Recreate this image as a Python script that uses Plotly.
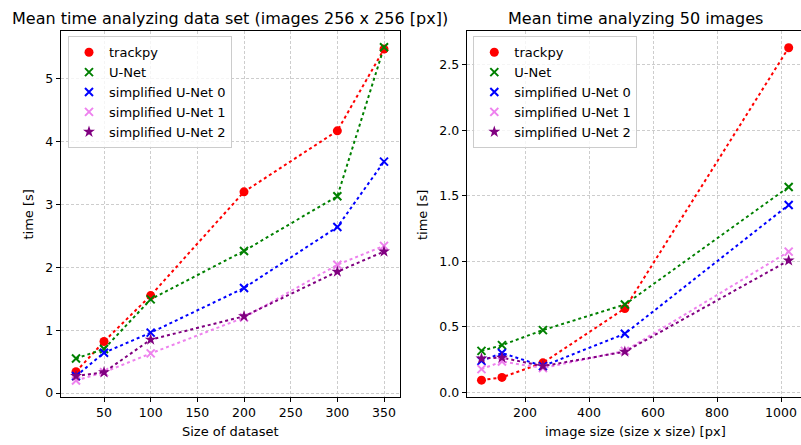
import plotly.graph_objects as go

W, H = 801, 445

# ---- data: left panel (dataset size) ----
dataset_sizes = [20, 50, 100, 200, 300, 350]
left_trackpy = [0.34, 0.82, 1.55, 3.20, 4.17, 5.47]
left_unet = [0.55, 0.70, 1.49, 2.26, 3.13, 5.50]
left_sunet0 = [0.27, 0.64, 0.96, 1.67, 2.64, 3.68]
left_sunet1 = [0.20, 0.33, 0.63, 1.20, 2.04, 2.34]
left_sunet2 = [0.27, 0.33, 0.85, 1.22, 1.93, 2.25]

# ---- data: right panel (image size) ----
image_sizes = [64, 128, 256, 512, 1024]
right_trackpy = [0.093, 0.114, 0.225, 0.64, 2.63]
right_unet = [0.316, 0.36, 0.475, 0.67, 1.567]
right_sunet0 = [0.24, 0.30, 0.20, 0.447, 1.43]
right_sunet1 = [0.177, 0.235, 0.185, 0.316, 1.074]
right_sunet2 = [0.258, 0.265, 0.20, 0.31, 1.006]

series_names = ["trackpy", "U-Net", "simplified U-Net 0", "simplified U-Net 1", "simplified U-Net 2"]
colors = ["red", "green", "blue", "violet", "purple"]
symbols = ["circle", "x-thin", "x-thin", "x-thin", "star"]

left_tick_x = [50, 100, 150, 200, 250, 300, 350]
left_tick_y = [0, 1, 2, 3, 4, 5]
right_tick_x = [200, 400, 600, 800, 1000]
right_tick_y = [0.0, 0.5, 1.0, 1.5, 2.0, 2.5]

FONT = "DejaVu Sans"
fig = go.Figure()

def add_panel(xs, ys_list, xa, ya, legend):
    for name, ys, c, s in zip(series_names, ys_list, colors, symbols):
        fig.add_trace(go.Scatter(x=xs, y=ys, mode="lines", xaxis=xa, yaxis=ya,
                                 line=dict(color=c, width=2, dash="dot"),
                                 showlegend=False, hoverinfo="skip"))
    for name, ys, c, s in zip(series_names, ys_list, colors, symbols):
        if s == "x-thin":
            mk = dict(symbol=s, size=8, color=c, line=dict(color=c, width=2))
        elif s == "star":
            mk = dict(symbol=s, size=9, color=c, line=dict(width=0))
        else:
            mk = dict(symbol=s, size=9, color=c, line=dict(width=0))
        fig.add_trace(go.Scatter(x=xs, y=ys, mode="markers", name=name, xaxis=xa, yaxis=ya,
                                 marker=mk, legend=legend))

add_panel(dataset_sizes, [left_trackpy, left_unet, left_sunet0, left_sunet1, left_sunet2], "x", "y", "legend")
add_panel(image_sizes, [right_trackpy, right_unet, right_sunet0, right_sunet1, right_sunet2], "x2", "y2", "legend2")

ydom = [1 - 400 / H, 1 - 31.7 / H]
axis_common = dict(showgrid=True, gridcolor="#cdcdcd", gridwidth=0.7, griddash="3px,2px",
                   zeroline=False, showline=True, linecolor="black", linewidth=1,
                   ticks="outside", ticklen=4, tickwidth=1, tickcolor="black",
                   tickfont=dict(family=FONT, size=12.5, color="black"))

legend_common = dict(bgcolor="rgba(255,255,255,0.8)", bordercolor="#cccccc", borderwidth=1,
                     font=dict(family=FONT, size=13, color="black"),
                     xanchor="left", yanchor="top", tracegroupgap=0)

fig.update_layout(
    width=W, height=H, margin=dict(l=0, r=0, t=0, b=0),
    paper_bgcolor="white", plot_bgcolor="white",
    font=dict(family=FONT, size=13, color="black"),
    xaxis=dict(domain=[60.7 / W, 399.6 / W], range=[3.6, 366.7], tickvals=left_tick_x,
               mirror=True, anchor="y", **axis_common),
    yaxis=dict(domain=ydom, range=[-0.068, 5.75], tickvals=left_tick_y,
               mirror=True, anchor="x", **axis_common),
    xaxis2=dict(domain=[466.7 / W, 1.0], range=[17.8, 1062.5], tickvals=right_tick_x,
                mirror=True, anchor="y2", **axis_common),
    yaxis2=dict(domain=ydom, range=[-0.038, 2.754], tickvals=right_tick_y, tickformat=".1f",
                mirror=False, anchor="x2", **axis_common),
    legend=dict(x=68 / W, y=1 - 36.5 / H, **legend_common),
    legend2=dict(x=473.3 / W, y=1 - 36.5 / H, **legend_common),
    annotations=[
        dict(text="Mean time analyzing data set (images 256 x 256 [px])", x=230.2 / W, y=1 - 18.5 / H,
             xref="paper", yref="paper", showarrow=False, xanchor="center", yanchor="middle",
             font=dict(family=FONT, size=16, color="black")),
        dict(text="Mean time analyzing 50 images", x=635 / W, y=1 - 18.5 / H,
             xref="paper", yref="paper", showarrow=False, xanchor="center", yanchor="middle",
             font=dict(family=FONT, size=16, color="black")),
        dict(text="Size of dataset", x=230.2 / W, y=1 - 434 / H,
             xref="paper", yref="paper", showarrow=False, xanchor="center", yanchor="middle",
             font=dict(family=FONT, size=13, color="black")),
        dict(text="image size (size x size) [px]", x=635 / W, y=1 - 434 / H,
             xref="paper", yref="paper", showarrow=False, xanchor="center", yanchor="middle",
             font=dict(family=FONT, size=13, color="black")),
        dict(text="time [s]", x=29 / W, y=1 - 216 / H, textangle=-90,
             xref="paper", yref="paper", showarrow=False, xanchor="center", yanchor="middle",
             font=dict(family=FONT, size=13, color="black")),
        dict(text="time [s]", x=422.5 / W, y=1 - 216 / H, textangle=-90,
             xref="paper", yref="paper", showarrow=False, xanchor="center", yanchor="middle",
             font=dict(family=FONT, size=13, color="black")),
    ],
)

fig.write_html("out.html")
